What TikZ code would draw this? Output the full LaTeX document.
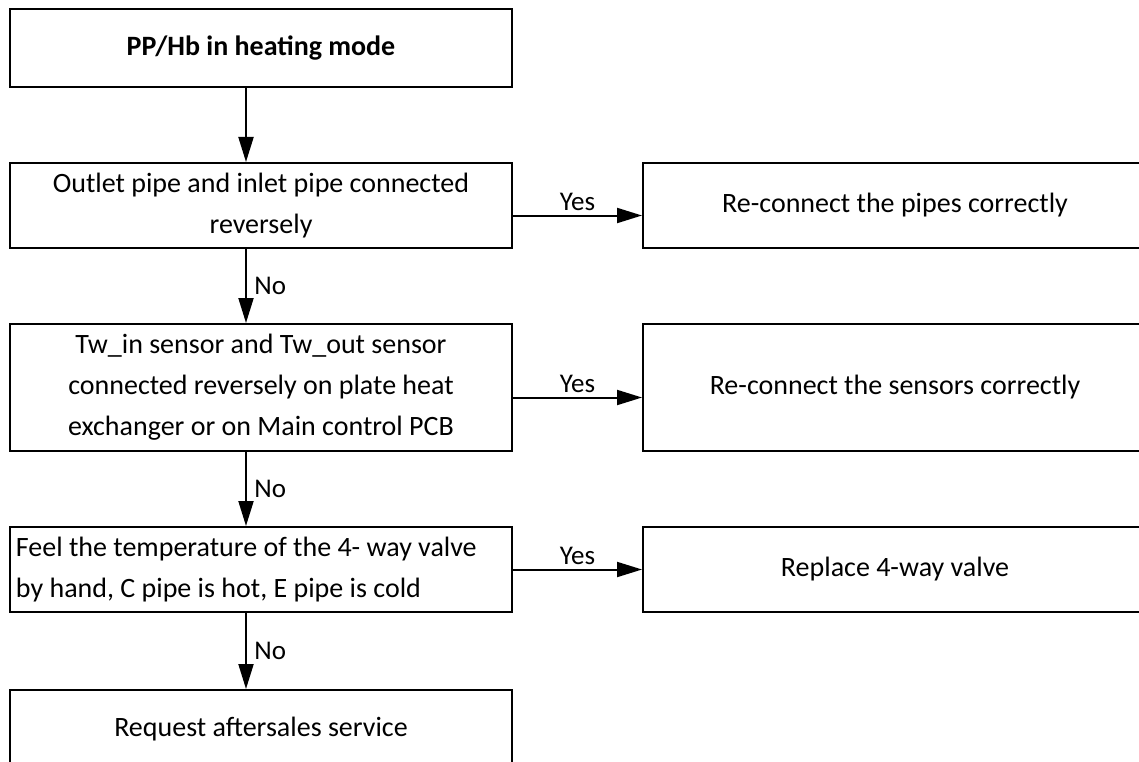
\documentclass[tikz,border=0pt]{standalone}
\usepackage{fontspec}
\setmainfont{Carlito}
\usetikzlibrary{arrows.meta}
\begin{document}
\begin{tikzpicture}[x=1pt, y=-1pt,
    box/.style={draw, line width=2pt, minimum width=502pt, minimum height=85pt, align=center, inner sep=0pt, font=\fontsize{28}{41}\selectfont},
    flow/.style={-{Triangle[length=25pt, width=15pt]}, line width=2pt},
    lbl/.style={font=\fontsize{27}{30}\selectfont}]
    \useasboundingbox (0,0) rectangle (1139,762);
    \clip (0,0) rectangle (1139,762);

    % Main column
    \node[box, minimum height=78pt, font=\bfseries\fontsize{28}{41}\selectfont] (start) at (261,48) {PP/Hb in heating mode};
    \node[box] (pipes) at (261,205.5) {Outlet pipe and inlet pipe connected\\reversely};
    \node[box, minimum height=127pt] (sensors) at (261,387.5) {Tw\_in sensor and Tw\_out sensor\\connected reversely on plate heat\\exchanger or on Main control PCB};
    \node[box, align=flush left, text width=490pt] (valve) at (261,569.5) {Feel the temperature of the 4- way valve\\by hand, C pipe is hot, E pipe is cold};
    \node[box, minimum height=78pt] (service) at (261,729) {Request aftersales service};

    % Remedies
    \node[box, minimum width=504pt] (fixpipes) at (895,205.5) {Re-connect the pipes correctly};
    \node[box, minimum width=504pt, minimum height=127pt] (fixsensors) at (895,387.5) {Re-connect the sensors correctly};
    \node[box, minimum width=504pt] (newvalve) at (895,569.5) {Replace 4-way valve};

    % No branch
    \draw[flow] ([xshift=-15pt]start.south) -- ([xshift=-15pt]pipes.north);
    \draw[flow] ([xshift=-15pt]pipes.south) -- ([xshift=-15pt]sensors.north) node[midway, right, lbl, xshift=4pt] {No};
    \draw[flow] ([xshift=-15pt]sensors.south) -- ([xshift=-15pt]valve.north) node[midway, right, lbl, xshift=4pt] {No};
    \draw[flow] ([xshift=-15pt]valve.south) -- ([xshift=-15pt]service.north) node[midway, right, lbl, xshift=4pt] {No};

    % Yes branch
    \draw[flow] ([yshift=-10pt]pipes.east) -- ([yshift=-10pt]fixpipes.west) node[midway, above, lbl] {Yes};
    \draw[flow] ([yshift=-10pt]sensors.east) -- ([yshift=-10pt]fixsensors.west) node[midway, above, lbl] {Yes};
    \draw[flow] (valve.east) -- (newvalve.west) node[midway, above, lbl] {Yes};
\end{tikzpicture}
\end{document}
